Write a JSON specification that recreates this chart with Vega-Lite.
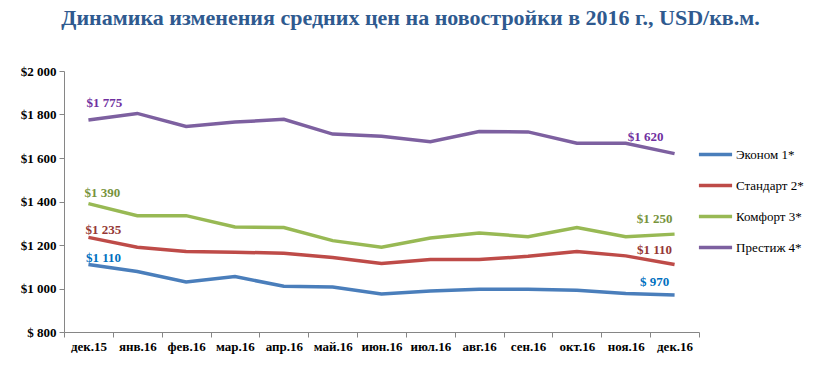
{
  "$schema": "https://vega.github.io/schema/vega-lite/v6.json",
  "autosize": {"type": "none"},
  "width": 635,
  "height": 261,
  "padding": {"left": 64, "top": 71, "right": 121, "bottom": 40},
  "background": "white",
  "title": {
    "text": "Динамика изменения средних цен на новостройки в 2016 г., USD/кв.м.",
    "font": "Liberation Serif",
    "fontSize": 22,
    "fontWeight": "bold",
    "color": "#2f5a8f",
    "anchor": "middle",
    "dx": 29,
    "offset": 35
  },
  "config": {
    "view": {"stroke": null},
    "axis": {"labelFont": "Liberation Serif", "labelFontSize": 13, "labelFontWeight": "bold", "labelColor": "#000000", "domainColor": "#868686", "tickColor": "#868686", "grid": false, "title": null}
  },
  "data": {
    "values": [
      {"month": "дек.15", "series": "Эконом 1*", "value": 1110, "label": "$1 110"},
      {"month": "янв.16", "series": "Эконом 1*", "value": 1078},
      {"month": "фев.16", "series": "Эконом 1*", "value": 1030},
      {"month": "мар.16", "series": "Эконом 1*", "value": 1055},
      {"month": "апр.16", "series": "Эконом 1*", "value": 1010},
      {"month": "май.16", "series": "Эконом 1*", "value": 1007},
      {"month": "июн.16", "series": "Эконом 1*", "value": 975},
      {"month": "июл.16", "series": "Эконом 1*", "value": 988},
      {"month": "авг.16", "series": "Эконом 1*", "value": 997},
      {"month": "сен.16", "series": "Эконом 1*", "value": 997},
      {"month": "окт.16", "series": "Эконом 1*", "value": 992},
      {"month": "ноя.16", "series": "Эконом 1*", "value": 977},
      {"month": "дек.16", "series": "Эконом 1*", "value": 970, "label": "$ 970"},
      {"month": "дек.15", "series": "Стандарт 2*", "value": 1235, "label": "$1 235"},
      {"month": "янв.16", "series": "Стандарт 2*", "value": 1190},
      {"month": "фев.16", "series": "Стандарт 2*", "value": 1170},
      {"month": "мар.16", "series": "Стандарт 2*", "value": 1167},
      {"month": "апр.16", "series": "Стандарт 2*", "value": 1162},
      {"month": "май.16", "series": "Стандарт 2*", "value": 1143},
      {"month": "июн.16", "series": "Стандарт 2*", "value": 1115},
      {"month": "июл.16", "series": "Стандарт 2*", "value": 1133},
      {"month": "авг.16", "series": "Стандарт 2*", "value": 1133},
      {"month": "сен.16", "series": "Стандарт 2*", "value": 1148},
      {"month": "окт.16", "series": "Стандарт 2*", "value": 1170},
      {"month": "ноя.16", "series": "Стандарт 2*", "value": 1150},
      {"month": "дек.16", "series": "Стандарт 2*", "value": 1110, "label": "$1 110"},
      {"month": "дек.15", "series": "Комфорт 3*", "value": 1390, "label": "$1 390"},
      {"month": "янв.16", "series": "Комфорт 3*", "value": 1335},
      {"month": "фев.16", "series": "Комфорт 3*", "value": 1335},
      {"month": "мар.16", "series": "Комфорт 3*", "value": 1283},
      {"month": "апр.16", "series": "Комфорт 3*", "value": 1280},
      {"month": "май.16", "series": "Комфорт 3*", "value": 1220},
      {"month": "июн.16", "series": "Комфорт 3*", "value": 1190},
      {"month": "июл.16", "series": "Комфорт 3*", "value": 1232},
      {"month": "авг.16", "series": "Комфорт 3*", "value": 1255},
      {"month": "сен.16", "series": "Комфорт 3*", "value": 1238},
      {"month": "окт.16", "series": "Комфорт 3*", "value": 1280},
      {"month": "ноя.16", "series": "Комфорт 3*", "value": 1238},
      {"month": "дек.16", "series": "Комфорт 3*", "value": 1250, "label": "$1 250"},
      {"month": "дек.15", "series": "Престиж 4*", "value": 1775, "label": "$1 775"},
      {"month": "янв.16", "series": "Престиж 4*", "value": 1805},
      {"month": "фев.16", "series": "Престиж 4*", "value": 1745},
      {"month": "мар.16", "series": "Престиж 4*", "value": 1765},
      {"month": "апр.16", "series": "Престиж 4*", "value": 1778},
      {"month": "май.16", "series": "Престиж 4*", "value": 1710},
      {"month": "июн.16", "series": "Престиж 4*", "value": 1700},
      {"month": "июл.16", "series": "Престиж 4*", "value": 1675},
      {"month": "авг.16", "series": "Престиж 4*", "value": 1722},
      {"month": "сен.16", "series": "Престиж 4*", "value": 1720},
      {"month": "окт.16", "series": "Престиж 4*", "value": 1668},
      {"month": "ноя.16", "series": "Престиж 4*", "value": 1668},
      {"month": "дек.16", "series": "Престиж 4*", "value": 1620, "label": "$1 620"}
    ]
  },
  "encoding": {
    "x": {
      "field": "month", "type": "nominal",
      "sort": ["дек.15","янв.16","фев.16","мар.16","апр.16","май.16","июн.16","июл.16","авг.16","сен.16","окт.16","ноя.16","дек.16"],
      "scale": {"paddingInner": 0, "paddingOuter": 0},
      "axis": {"labelAngle": 0, "tickBand": "extent", "tickSize": 5, "labelPadding": 3}
    },
    "y": {
      "field": "value", "type": "quantitative",
      "scale": {"domain": [800, 2000], "nice": false, "zero": false},
      "axis": {"values": [800,1000,1200,1400,1600,1800,2000], "tickSize": 5, "labelPadding": 3,
               "labelExpr": "datum.value >= 1000 ? '$' + replace(format(datum.value, ','), ',', ' ') : '$ ' + datum.value"}
    }
  },
  "layer": [
    {
      "mark": {"type": "line", "strokeWidth": 3.5},
      "encoding": {
        "color": {
          "field": "series", "type": "nominal",
          "scale": {"domain": ["Эконом 1*","Стандарт 2*","Комфорт 3*","Престиж 4*"], "range": ["#4a7ebb","#be4b48","#98b954","#7d60a0"]},
          "legend": {"title": null, "orient": "none", "legendX": 633, "legendY": 65, "symbolType": "stroke", "symbolSize": 1100, "symbolStrokeWidth": 3.5, "labelFont": "Liberation Serif", "labelFontSize": 13, "labelColor": "#000000", "rowPadding": 5, "labelOffset": 2}
        }
      }
    },
    {"transform": [{"filter": "datum.label && datum.month == 'дек.15' && datum.series == 'Престиж 4*'"}], "mark": {"type": "text", "font": "Liberation Serif", "fontSize": 13, "fontWeight": "bold", "color": "#7030a0", "dx": 16, "dy": -17}, "encoding": {"text": {"field": "label"}}},
    {"transform": [{"filter": "datum.label && datum.month == 'дек.15' && datum.series == 'Комфорт 3*'"}], "mark": {"type": "text", "font": "Liberation Serif", "fontSize": 13, "fontWeight": "bold", "color": "#77933c", "dx": 14, "dy": -11}, "encoding": {"text": {"field": "label"}}},
    {"transform": [{"filter": "datum.label && datum.month == 'дек.15' && datum.series == 'Стандарт 2*'"}], "mark": {"type": "text", "font": "Liberation Serif", "fontSize": 13, "fontWeight": "bold", "color": "#953735", "dx": 15, "dy": -7}, "encoding": {"text": {"field": "label"}}},
    {"transform": [{"filter": "datum.label && datum.month == 'дек.15' && datum.series == 'Эконом 1*'"}], "mark": {"type": "text", "font": "Liberation Serif", "fontSize": 13, "fontWeight": "bold", "color": "#0070c0", "dx": 15, "dy": -7}, "encoding": {"text": {"field": "label"}}},
    {"transform": [{"filter": "datum.label && datum.month == 'дек.16' && datum.series == 'Престиж 4*'"}], "mark": {"type": "text", "font": "Liberation Serif", "fontSize": 13, "fontWeight": "bold", "color": "#7030a0", "dx": -29, "dy": -17}, "encoding": {"text": {"field": "label"}}},
    {"transform": [{"filter": "datum.label && datum.month == 'дек.16' && datum.series == 'Комфорт 3*'"}], "mark": {"type": "text", "font": "Liberation Serif", "fontSize": 13, "fontWeight": "bold", "color": "#77933c", "dx": -20, "dy": -15}, "encoding": {"text": {"field": "label"}}},
    {"transform": [{"filter": "datum.label && datum.month == 'дек.16' && datum.series == 'Стандарт 2*'"}], "mark": {"type": "text", "font": "Liberation Serif", "fontSize": 13, "fontWeight": "bold", "color": "#953735", "dx": -20, "dy": -15}, "encoding": {"text": {"field": "label"}}},
    {"transform": [{"filter": "datum.label && datum.month == 'дек.16' && datum.series == 'Эконом 1*'"}], "mark": {"type": "text", "font": "Liberation Serif", "fontSize": 13, "fontWeight": "bold", "color": "#0070c0", "dx": -20, "dy": -13}, "encoding": {"text": {"field": "label"}}}
  ]
}
